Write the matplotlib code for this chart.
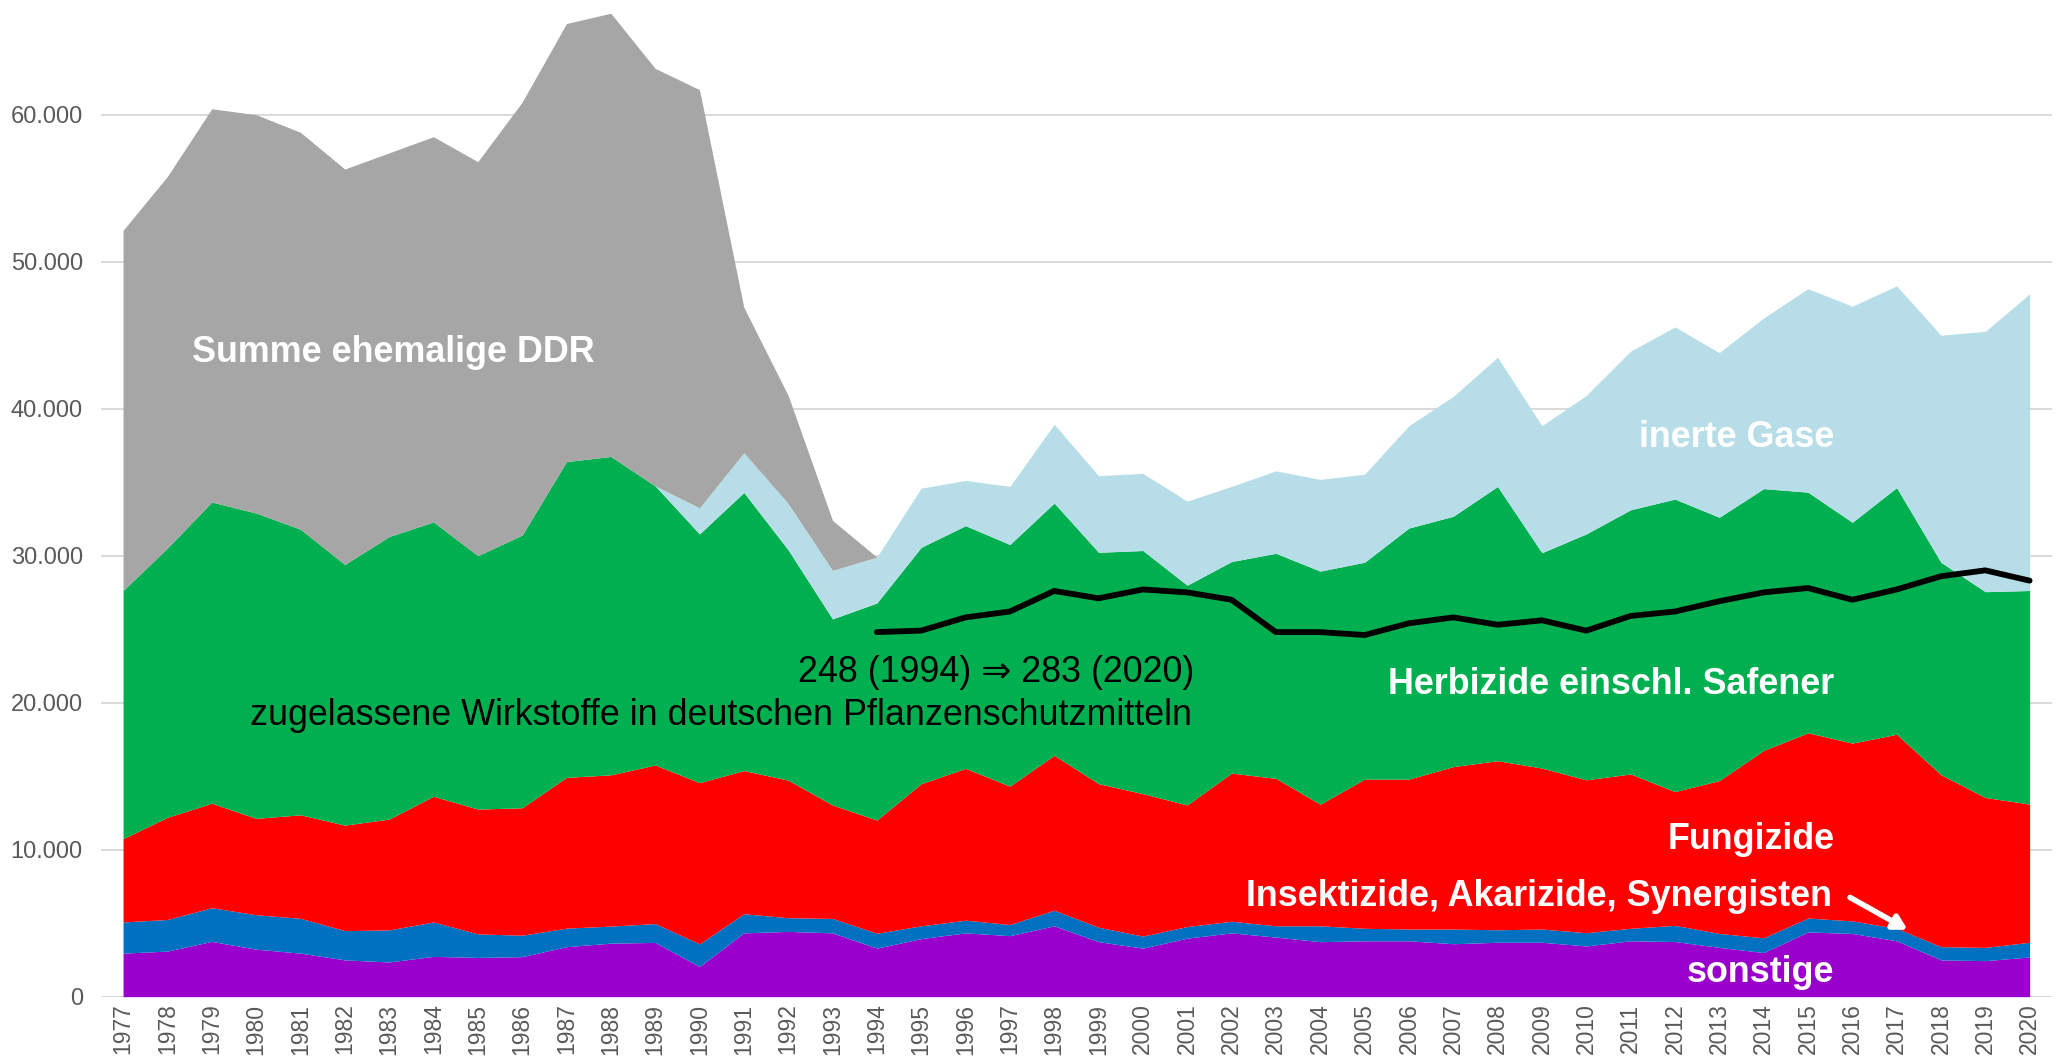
import numpy as np
import matplotlib
matplotlib.use("Agg")
import matplotlib.pyplot as plt
from matplotlib.ticker import FuncFormatter

years = list(range(1977, 2021))

sonstige = [2960, 3100, 3760, 3230, 2960, 2500, 2360, 2740, 2670, 2720,
            3400, 3640, 3690, 2050, 4340, 4440, 4340, 3300, 3950, 4340,
            4150, 4820, 3740, 3300, 3980, 4340, 4050, 3740, 3800, 3800,
            3600, 3700, 3700, 3450, 3800, 3750, 3350, 3000, 4400, 4300,
            3800, 2500, 2450, 2700]
insektizide = [2120, 2150, 2290, 2340, 2370, 1990, 2180, 2340, 1600, 1460,
               1260, 1160, 1280, 1540, 1300, 930, 980, 1010, 870, 860,
               760, 1060, 980, 820, 790, 790, 770, 1080, 850, 800,
               1000, 850, 900, 900, 850, 1100, 950, 1000, 950, 850,
               850, 900, 900, 1000]
fungizide = [5670, 6950, 7110, 6560, 7040, 7180, 7540, 8550, 8490, 8670,
             10260, 10290, 10790, 10970, 9740, 9360, 7720, 7700, 9670, 10330,
             9410, 10540, 9770, 9690, 8270, 10080, 10030, 8270, 10150, 10200,
             11050, 11500, 10950, 10400, 10500, 9100, 10400, 12750, 12600, 12100,
             13200, 11700, 10200, 9400]
herbizide = [16880, 18320, 20490, 20770, 19430, 17730, 19220, 18670, 17240, 18550,
             21480, 21660, 18990, 16920, 18920, 15670, 12660, 14770, 16080, 16510,
             16440, 17160, 15740, 16540, 14950, 14390, 15310, 15860, 14750, 17080,
             17030, 18660, 14650, 16730, 17970, 19900, 17910, 17810, 16370, 15020,
             16780, 14450, 14000, 14530]
inerte_gase = [0, 0, 0, 0, 0, 0, 0, 0, 0, 0,
               0, 0, 0, 1770, 2700, 3150, 3300, 3120, 4020, 3080,
               3950, 5360, 5210, 5250, 5720, 5110, 5610, 6240, 5990, 6960,
               8150, 8790, 8640, 9420, 10790, 11710, 11200, 11610, 13840, 14700,
               13720, 15450, 17710, 20180]
ddr_years = list(range(1977, 1995))
ddr = [24500, 25280, 26750, 27100, 27000, 26900, 26100, 26200, 26800, 29450,
       29800, 30150, 28400, 28450, 9900, 7350, 3400, 0]

wirk_years = list(range(1994, 2021))
wirkstoffe = [248, 249, 258, 262, 276, 271, 277, 275, 270, 248, 248, 246, 254, 258,
              253, 256, 249, 259, 262, 269, 275, 278, 270, 277, 286, 290, 283]

y_ticks = [0, 10000, 20000, 30000, 40000, 50000, 60000]

colors = {
    "sonstige": "#9900CC",
    "insekt": "#0070C0",
    "fung": "#FF0000",
    "herb": "#00B050",
    "gase": "#B7DEE8",
    "ddr": "#A6A6A6",
}

plt.rcParams['font.family'] = ['Liberation Sans', 'DejaVu Sans']

fig = plt.figure(figsize=(20.59, 10.56), dpi=100)
ax = fig.add_axes([0.049, 0.0562, 0.9475, 0.9438])

x = np.array(years)
layers = [np.array(sonstige), np.array(insektizide), np.array(fungizide),
          np.array(herbizide)]
layer_cols = [colors["sonstige"], colors["insekt"], colors["fung"], colors["herb"]]
base = np.zeros(len(years))
for vals, c in zip(layers, layer_cols):
    top = base + vals
    ax.fill_between(x, base, top, color=c, lw=0, zorder=2)
    base = top

# inerte Gase from 1989 onward
gas = np.array(inerte_gase)
mask = x >= 1989
ax.fill_between(x[mask], base[mask], base[mask] + gas[mask],
                color=colors["gase"], lw=0, zorder=2)
base = base + gas

# ehemalige DDR
xd = np.array(ddr_years)
bd = base[:len(ddr_years)]
ax.fill_between(xd, bd, bd + np.array(ddr), color=colors["ddr"], lw=0, zorder=2)

# Wirkstoffe line (count scaled x100 on the same axis)
ax.plot(wirk_years, np.array(wirkstoffe) * 100, color="black", lw=4.2,
        solid_capstyle="round", solid_joinstyle="round", zorder=4)

ax.set_xlim(1976.5, 2020.5)
ax.set_ylim(0, 67800)
ax.set_yticks(y_ticks)
ax.yaxis.set_major_formatter(FuncFormatter(lambda v, p: f"{int(v):,}".replace(",", ".")))
ax.set_xticks(years)
ax.set_xticklabels([str(y) for y in years], rotation=90)
ax.tick_params(axis="y", length=0, pad=13, labelsize=17, labelcolor="#595959")
ax.tick_params(axis="x", length=0, pad=5, labelsize=16.5, labelcolor="#595959")
ax.grid(axis="y", color="#D9D9D9", lw=1.4, zorder=0)
ax.set_axisbelow(True)
for s in ax.spines.values():
    s.set_visible(False)
ax.axhline(0, color="#D9D9D9", lw=1.4, zorder=1)

fs = 25.8
bold = dict(color="white", fontsize=fs, fontweight="bold", zorder=5)
ax.text(1983.1, 43840, "Summe ehemalige DDR", ha="center", va="center", **bold)
ax.text(2015.6, 38040, "inerte Gase", ha="right", va="center", **bold)
ax.text(2015.6, 21250, "Herbizide einschl. Safener", ha="right", va="center", **bold)
ax.text(2015.6, 10710, "Fungizide", ha="right", va="center", **bold)
ax.text(2015.55, 6790, "Insektizide, Akarizide, Synergisten", ha="right", va="center", **bold)
ax.text(2015.6, 1610, "sonstige", ha="right", va="center", **bold)

ax.text(2001.15, 22050, "248 (1994) \u21d2 283 (2020)", ha="right", va="center",
        color="black", fontsize=fs, zorder=5,
        family=['Liberation Sans', 'DejaVu Sans'])
ax.text(2001.1, 19110, "zugelassene Wirkstoffe in deutschen Pflanzenschutzmitteln",
        ha="right", va="center", color="black", fontsize=fs, zorder=5)

ax.annotate("", xy=(2017.25, 4550), xytext=(2015.95, 6750),
            arrowprops=dict(arrowstyle="-|>,head_length=0.8,head_width=0.45",
                            color="white", lw=4, shrinkA=0, shrinkB=0),
            zorder=5)

fig.savefig("out.png", dpi=100)
